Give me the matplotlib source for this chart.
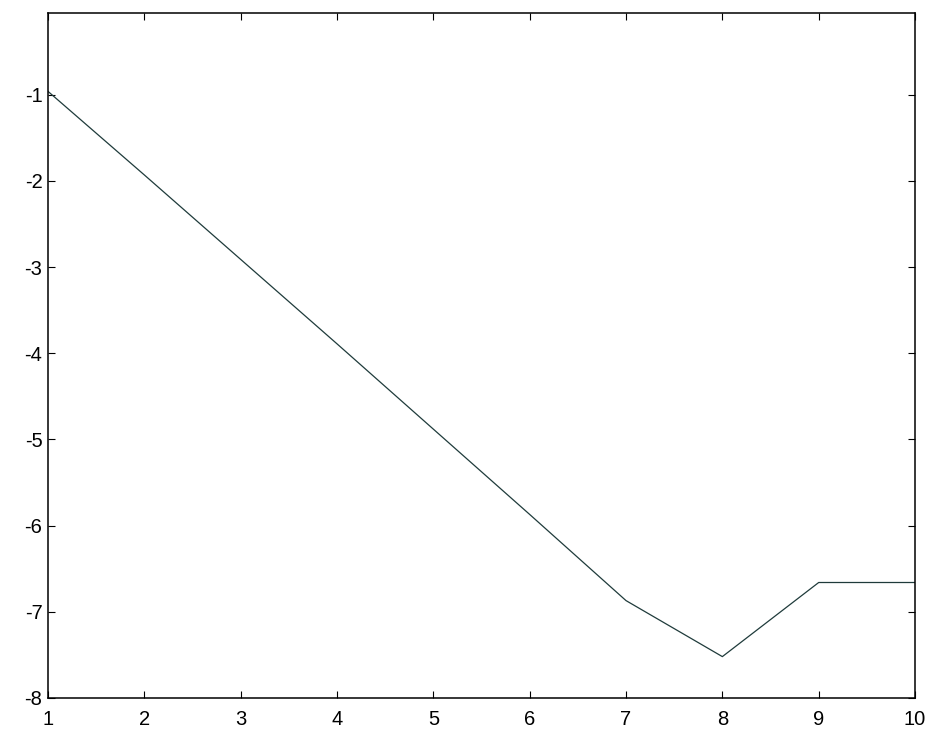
import numpy as np
import matplotlib
matplotlib.use("Agg")
import matplotlib.pyplot as plt

# values
x = [1, 2, 3, 4, 5, 6, 7, 8, 9, 10]
y = [-0.96, -1.93, -2.91, -3.89, -4.88, -5.87, -6.87, -7.52, -6.66, -6.66]
xticks = list(range(1, 11))
yticks = [-8, -7, -6, -5, -4, -3, -2, -1]

plt.rcParams['font.family'] = ['Liberation Sans', 'DejaVu Sans']
plt.rcParams['axes.unicode_minus'] = False

fig = plt.figure(figsize=(9.3, 7.4), dpi=100)
ax = fig.add_axes([0.0516, 0.0568, 0.9323, 0.9257])

ax.plot(x, y, color='#1f3b3b', linewidth=0.9)

ax.set_xlim(1, 10)
ax.set_ylim(-8, -0.05)
ax.set_xticks(xticks)
ax.set_yticks(yticks)
ax.tick_params(axis='both', direction='in', top=True, right=True,
               labelsize=14.5, length=5, width=0.8)
ax.tick_params(axis='x', pad=9)
ax.tick_params(axis='y', pad=4)
for s in ax.spines.values():
    s.set_linewidth(1.1)

plt.savefig('out.png', dpi=100)
